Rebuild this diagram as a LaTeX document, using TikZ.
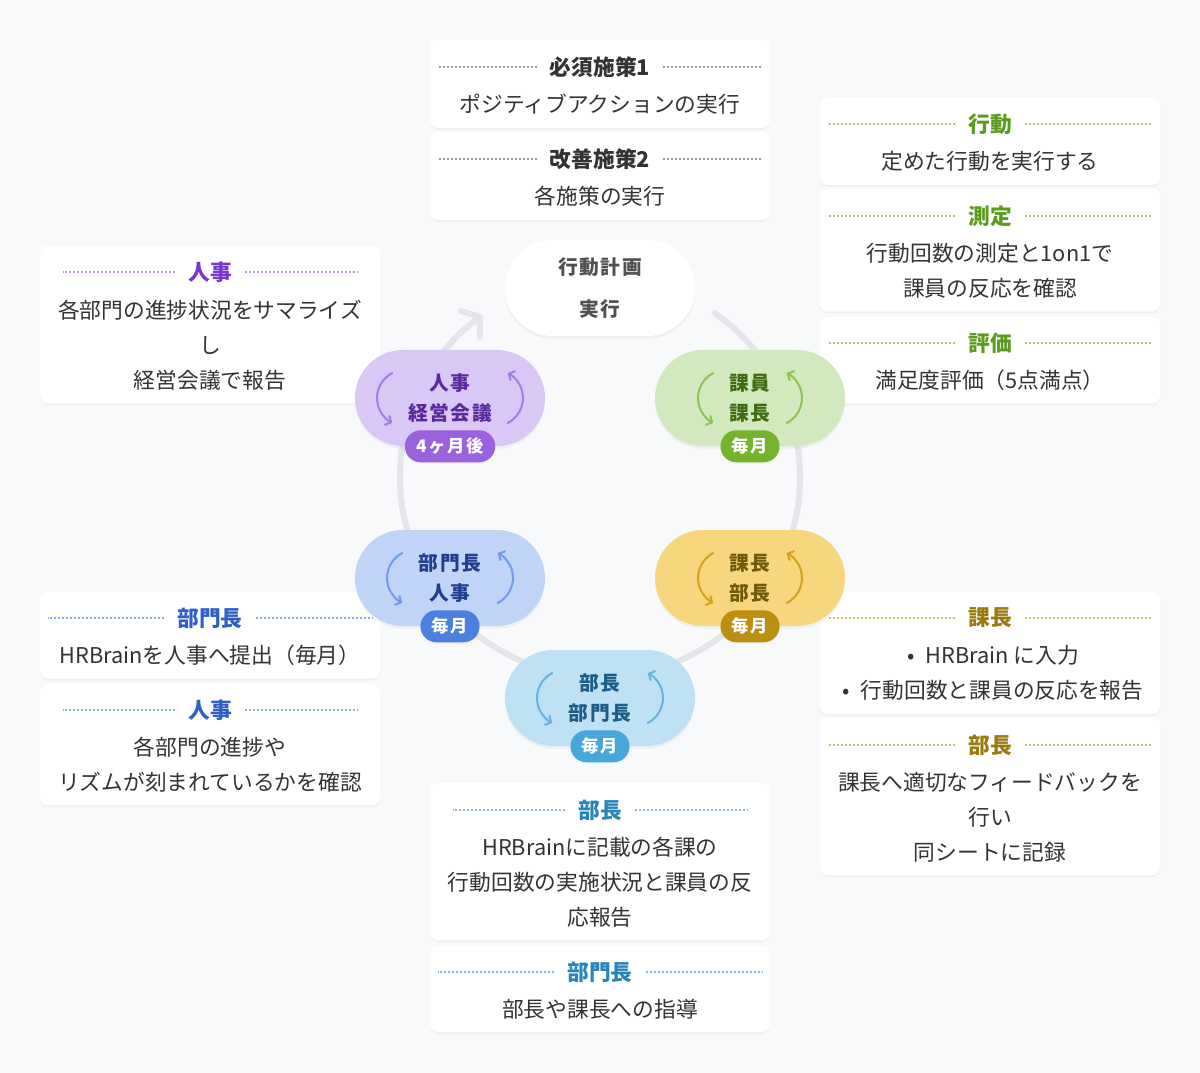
\documentclass[tikz,border=0pt]{standalone}
\usepackage{fontspec}
\setmainfont{Noto Sans CJK JP}
\newfontfamily\pillfont[LetterSpace=8]{Noto Sans CJK JP}
\newfontfamily\badgefont[LetterSpace=10]{Noto Sans CJK JP}
\usetikzlibrary{arrows.meta,shadows}

\newcommand{\boxw}{255pt}
\newcommand{\bodyfont}{\fontsize{16.3pt}{26.25pt}\selectfont}
\newcommand{\titlefont}{\fontsize{16.3pt}{20pt}\selectfont\bfseries}
\newcommand{\pilltext}{\pillfont\fontsize{14.8pt}{22.5pt}\selectfont\bfseries}
\newcommand{\badgetext}{\badgefont\fontsize{13pt}{15pt}\selectfont\bfseries}

% two turning arrows in a pill: node, offset, colour
\newcommand{\pillarrows}[3]{%
  \draw[cyclearrow, #3] (#1) ++(-#2,0) ++(28,0) ++(243:28) arc[start angle=243, end angle=117, radius=28];
  \draw[cyclearrow, #3] (#1) ++(#2,0) ++(-28,0) ++(63:28) arc[start angle=63, end angle=-63, radius=28];
}

\definecolor{bgcol}{HTML}{F8F9FB}
\definecolor{ringcol}{HTML}{E3E5E9}
\definecolor{bodytext}{HTML}{333333}
\definecolor{greytext}{HTML}{505050}
\definecolor{dotgrey}{HTML}{9A9A9A}
% purple
\definecolor{purfill}{HTML}{D9C7F5}
\definecolor{purtext}{HTML}{5A2A9C}
\definecolor{purarrow}{HTML}{A67DE3}
\definecolor{purbadge}{HTML}{9A63DD}
\definecolor{purtitle}{HTML}{7A35D6}
\definecolor{purdot}{HTML}{B990EC}
% green
\definecolor{grnfill}{HTML}{D2E9BD}
\definecolor{grntext}{HTML}{3F6B14}
\definecolor{grnarrow}{HTML}{8CC352}
\definecolor{grnbadge}{HTML}{74B42D}
\definecolor{grntitle}{HTML}{5B9C1C}
\definecolor{grndot}{HTML}{A3CD76}
% yellow
\definecolor{yelfill}{HTML}{F6D77E}
\definecolor{yeltext}{HTML}{6F5A08}
\definecolor{yelarrow}{HTML}{D3A416}
\definecolor{yelbadge}{HTML}{BC8E12}
\definecolor{yeltitle}{HTML}{987B0C}
\definecolor{yeldot}{HTML}{D1BF73}
% sky
\definecolor{skyfill}{HTML}{BEE2F4}
\definecolor{skytext}{HTML}{1E5B86}
\definecolor{skyarrow}{HTML}{64B4E1}
\definecolor{skybadge}{HTML}{47A6DA}
\definecolor{skytitle}{HTML}{2786B9}
\definecolor{skydot}{HTML}{86BCD9}
% blue
\definecolor{blufill}{HTML}{C0D4F8}
\definecolor{blutext}{HTML}{1F3E8E}
\definecolor{bluarrow}{HTML}{6F9CEA}
\definecolor{blubadge}{HTML}{4B80E0}
\definecolor{blutitle}{HTML}{2F60C6}
\definecolor{bludot}{HTML}{8FABE4}

\begin{document}
\begin{tikzpicture}[x=0.75pt, y=-0.75pt,
    infobox/.style={fill=white, rounded corners=6pt, anchor=north, minimum width=\boxw, inner sep=0pt, outer sep=0pt, drop shadow={opacity=0.07, shadow xshift=0pt, shadow yshift=-1.5pt}},
    boxtitle/.style={font=\titlefont, inner xsep=9.75pt, inner ysep=0pt},
    boxbody/.style={font=\bodyfont, text=bodytext, align=center, inner sep=0pt},
    dotline/.style={line width=1.4pt, dash pattern=on 1.4pt off 1.6pt},
    pill/.style={rounded corners=36pt, minimum width=142.5pt, minimum height=72pt, inner sep=0pt, font=\pilltext, align=center, drop shadow={opacity=0.08, shadow xshift=0pt, shadow yshift=-2pt}},
    badge/.style={rounded corners=12pt, minimum height=24pt, inner xsep=8.5pt, inner ysep=0pt, font=\badgetext, text=white, drop shadow={opacity=0.08, shadow xshift=0pt, shadow yshift=-1pt}},
    cyclearrow/.style={line width=1.5pt, line cap=round, -{Straight Barb[length=3.5pt, width=8pt]}},
    ring/.style={line width=4.5pt, ringcol, line cap=round, -{Straight Barb[length=9pt, width=24pt, round]}}]

    \fill[bgcol] (0,0) rectangle (1200,1073);

    % Ring
    \coordinate (ring-c) at (600,477);
    \draw[ring] (ring-c) ++(-55:200) arc[start angle=-55, end angle=234, radius=200];

    % Top boxes
    \node[infobox, minimum height=66pt] (box-t1) at (600,40) {};
    \node[boxtitle, text=bodytext] (title-t1) at (600,67) {必須施策1};
    \node[boxbody] (body-t1) at (600,104) {ポジティブアクションの実行};
    \draw[dotline, dotgrey] (title-t1.west) -- ([xshift=6pt]box-t1.west |- title-t1.west);
    \draw[dotline, dotgrey] (title-t1.east) -- ([xshift=-6pt]box-t1.east |- title-t1.east);

    \node[infobox, minimum height=66pt] (box-t2) at (600,132) {};
    \node[boxtitle, text=bodytext] (title-t2) at (600,159) {改善施策2};
    \node[boxbody] (body-t2) at (600,196) {各施策の実行};
    \draw[dotline, dotgrey] (title-t2.west) -- ([xshift=6pt]box-t2.west |- title-t2.west);
    \draw[dotline, dotgrey] (title-t2.east) -- ([xshift=-6pt]box-t2.east |- title-t2.east);

    % Right top boxes
    \node[infobox, minimum height=66pt] (box-r1) at (990,97) {};
    \node[boxtitle, text=grntitle] (title-r1) at (990,124) {行動};
    \node[boxbody] (body-r1) at (990,161) {定めた行動を実行する};
    \draw[dotline, grndot] (title-r1.west) -- ([xshift=6pt]box-r1.west |- title-r1.west);
    \draw[dotline, grndot] (title-r1.east) -- ([xshift=-6pt]box-r1.east |- title-r1.east);

    \node[infobox, minimum height=92pt] (box-r2) at (990,189) {};
    \node[boxtitle, text=grntitle] (title-r2) at (990,216) {測定};
    \node[boxbody] (body-r2) at (990,270.5) {行動回数の測定と1on1で\\課員の反応を確認};
    \draw[dotline, grndot] (title-r2.west) -- ([xshift=6pt]box-r2.west |- title-r2.west);
    \draw[dotline, grndot] (title-r2.east) -- ([xshift=-6pt]box-r2.east |- title-r2.east);

    \node[infobox, minimum height=65pt] (box-r3) at (990,317) {};
    \node[boxtitle, text=grntitle] (title-r3) at (990,343) {評価};
    \node[boxbody] (body-r3) at (990,380) {満足度評価（5点満点）};
    \draw[dotline, grndot] (title-r3.west) -- ([xshift=6pt]box-r3.west |- title-r3.west);
    \draw[dotline, grndot] (title-r3.east) -- ([xshift=-6pt]box-r3.east |- title-r3.east);

    % Left top box
    \node[infobox, minimum height=118pt] (box-l1) at (210,246) {};
    \node[boxtitle, text=purtitle] (title-l1) at (210,272) {人事};
    \node[boxbody] (body-l1) at (210,345) {各部門の進捗状況をサマライズ\\し\\経営会議で報告};
    \draw[dotline, purdot] (title-l1.west) -- ([xshift=17pt]box-l1.west |- title-l1.west);
    \draw[dotline, purdot] (title-l1.east) -- ([xshift=-17pt]box-l1.east |- title-l1.east);

    % Right bottom boxes
    \node[infobox, minimum height=91.5pt] (box-r4) at (990,592) {};
    \node[boxtitle, text=yeltitle] (title-r4) at (990,618) {課長};
    \node[boxbody] (body-r4) at (993,672.5) {•\enspace HRBrain に入力\\•\enspace 行動回数と課員の反応を報告};
    \draw[dotline, yeldot] (title-r4.west) -- ([xshift=6pt]box-r4.west |- title-r4.west);
    \draw[dotline, yeldot] (title-r4.east) -- ([xshift=-6pt]box-r4.east |- title-r4.east);

    \node[infobox, minimum height=118pt] (box-r5) at (990,718) {};
    \node[boxtitle, text=yeltitle] (title-r5) at (990,745) {部長};
    \node[boxbody] (body-r5) at (990,817) {課長へ適切なフィードバックを\\行い\\同シートに記録};
    \draw[dotline, yeldot] (title-r5.west) -- ([xshift=6pt]box-r5.west |- title-r5.west);
    \draw[dotline, yeldot] (title-r5.east) -- ([xshift=-6pt]box-r5.east |- title-r5.east);

    % Left bottom boxes
    \node[infobox, minimum height=65pt] (box-l2) at (210,592) {};
    \node[boxtitle, text=blutitle] (title-l2) at (210,618) {部門長};
    \node[boxbody] (body-l2) at (210,655) {HRBrainを人事へ提出（毎月）};
    \draw[dotline, bludot] (title-l2.west) -- ([xshift=6pt]box-l2.west |- title-l2.west);
    \draw[dotline, bludot] (title-l2.east) -- ([xshift=-6pt]box-l2.east |- title-l2.east);

    \node[infobox, minimum height=91pt] (box-l3) at (210,684) {};
    \node[boxtitle, text=blutitle] (title-l3) at (210,710) {人事};
    \node[boxbody] (body-l3) at (210,765) {各部門の進捗や\\リズムが刻まれているかを確認};
    \draw[dotline, bludot] (title-l3.west) -- ([xshift=17pt]box-l3.west |- title-l3.west);
    \draw[dotline, bludot] (title-l3.east) -- ([xshift=-17pt]box-l3.east |- title-l3.east);

    % Bottom boxes
    \node[infobox, minimum height=118pt] (box-b1) at (600,783) {};
    \node[boxtitle, text=skytitle] (title-b1) at (600,810) {部長};
    \node[boxbody] (body-b1) at (600,882) {HRBrainに記載の各課の\\行動回数の実施状況と課員の反\\応報告};
    \draw[dotline, skydot] (title-b1.west) -- ([xshift=17pt]box-b1.west |- title-b1.west);
    \draw[dotline, skydot] (title-b1.east) -- ([xshift=-17pt]box-b1.east |- title-b1.east);

    \node[infobox, minimum height=64.5pt] (box-b2) at (600,946) {};
    \node[boxtitle, text=skytitle] (title-b2) at (600,972) {部門長};
    \node[boxbody] (body-b2) at (600,1009) {部長や課長への指導};
    \draw[dotline, skydot] (title-b2.west) -- ([xshift=6pt]box-b2.west |- title-b2.west);
    \draw[dotline, skydot] (title-b2.east) -- ([xshift=-6pt]box-b2.east |- title-b2.east);

    % Pills
    \node[pill, fill=white, text=greytext, font=\pillfont\fontsize{14.8pt}{31.5pt}\selectfont\bfseries] (pill-top) at (600,288) {行動計画\\実行};

    \node[pill, fill=grnfill, text=grntext] (pill-1) at (750,398) {課員\\課長};
    \pillarrows{pill-1}{52}{grnarrow}
    \node[badge, fill=grnbadge] (badge-1) at (pill-1.south) {毎月};

    \node[pill, fill=yelfill, text=yeltext] (pill-2) at (750,578) {課長\\部長};
    \pillarrows{pill-2}{52}{yelarrow}
    \node[badge, fill=yelbadge] (badge-2) at (pill-2.south) {毎月};

    \node[pill, fill=skyfill, text=skytext] (pill-3) at (600,698) {部長\\部門長};
    \pillarrows{pill-3}{63}{skyarrow}
    \node[badge, fill=skybadge] (badge-3) at (pill-3.south) {毎月};

    \node[pill, fill=blufill, text=blutext] (pill-4) at (450,578) {部門長\\人事};
    \pillarrows{pill-4}{63}{bluarrow}
    \node[badge, fill=blubadge] (badge-4) at (pill-4.south) {毎月};

    \node[pill, fill=purfill, text=purtext] (pill-5) at (450,398) {人事\\経営会議};
    \pillarrows{pill-5}{73}{purarrow}
    \node[badge, fill=purbadge] (badge-5) at (pill-5.south) {4ヶ月後};

\end{tikzpicture}
\end{document}
